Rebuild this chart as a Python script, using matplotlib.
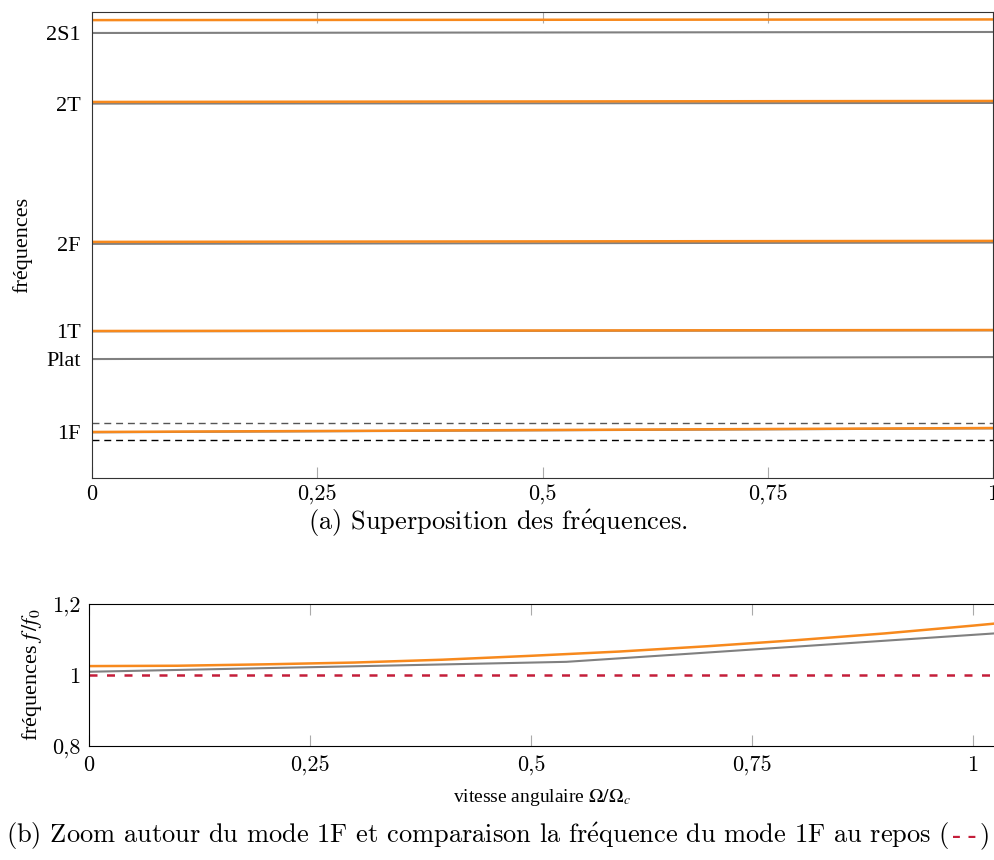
import matplotlib
matplotlib.use('Agg')
from matplotlib import pyplot as plt
from matplotlib.offsetbox import TextArea, HPacker, AnchoredOffsetbox

'''
Fréquences propres en fonction de la vitesse angulaire
'''

# abscisses : vitesse angulaire normalisée
omega = [0, 1]

# (a) fréquences normalisées par f0 (mode 1F au repos)
modes = ['1F', 'Plat', '1T', '2F', '2T', '2S1']
gray_start = [0.99, 3.21, 4.05, 6.70, 10.95, 13.09]
gray_end = [1.11, 3.27, 4.08, 6.74, 10.97, 13.12]
orange_start = [1.00, None, 4.06, 6.76, 11.00, 13.48]
orange_end = [1.12, None, 4.09, 6.79, 11.03, 13.50]
tick_pos = [1.00, 3.21, 4.06, 6.70, 10.95, 13.09]
bande_haut = 1.27
bande_bas = 0.76

# (b) zoom autour de 1F
omega_o = [0, 0.1, 0.2, 0.3, 0.4, 0.5, 0.6, 0.7, 0.8, 0.9, 1.0, 1.03]
f_orange = [1.025, 1.026, 1.030, 1.035, 1.043, 1.054, 1.066, 1.081, 1.098,
             1.117, 1.139, 1.146]
omega_g = [0, 0.33, 0.54, 0.668, 1.0, 1.03]
f_gray = [1.009, 1.026, 1.037, 1.058, 1.113, 1.118]
f_repos = 1.0

x_ticks = [0, 0.25, 0.5, 0.75, 1]
x_labels = ['0', '0,25', '0,5', '0,75', '1']

ORANGE = '#f7891d'
GRAY = '#808080'
RED = '#c41e3a'
SERIF = ['Liberation Serif', 'DejaVu Serif']
CM = ['cmr10', 'DejaVu Serif']
E_AIGU = r'$\mathrm{\acute{e}}$'

plt.rcParams['mathtext.fontset'] = 'stix'
plt.rcParams['axes.unicode_minus'] = False

fig = plt.figure(figsize=(9.95, 8.6), dpi=100)

# ---- (a)
ax = fig.add_axes([0.0925, 0.4442, 0.9055, 0.5419])
for i in range(len(modes)):
    ax.plot(omega, [gray_start[i], gray_end[i]], color=GRAY, lw=1.5)
    if orange_start[i] is not None:
        ax.plot(omega, [orange_start[i], orange_end[i]], color=ORANGE, lw=1.8)
ax.plot(omega, [bande_haut, bande_haut], color='#555555', lw=1.0, ls=(0, (5, 3.5)))
ax.plot(omega, [bande_bas, bande_bas], color='black', lw=1.0, ls=(0, (5, 3.5)))
ax.set_xlim(0, 1)
ax.set_ylim(-0.394, 13.727)
ax.set_xticks(x_ticks)
ax.set_xticklabels(x_labels, fontfamily=CM, fontsize=16)
ax.set_yticks(tick_pos)
ax.set_yticklabels(modes, fontfamily=SERIF, fontsize=16)
ax.tick_params(axis='x', direction='in', length=8, color='#aaaaaa', top=True,
               pad=5)
ax.tick_params(axis='y', length=0, pad=8)
ax.set_ylabel('fréquences', fontfamily=SERIF, fontsize=16, labelpad=10)
for s in ax.spines.values():
    s.set_color('#333333')
fig.text(0.5, 1 - 523 / 860, '(a) Superposition des fr' + E_AIGU + 'quences.',
         ha='center', va='center', fontfamily=CM, fontsize=19,
         math_fontfamily='cm')

# ---- (b)
bx = fig.add_axes([0.0894, 0.1326, 0.9106, 0.1651])
bx.plot(omega_g, f_gray, color=GRAY, lw=1.5)
bx.plot(omega_o, f_orange, color=ORANGE, lw=1.8)
bx.axhline(f_repos, color=RED, lw=1.8, ls=(0, (3.2, 3.8)))
bx.set_xlim(0, 1.025)
bx.set_ylim(0.8, 1.2)
bx.set_xticks(x_ticks)
bx.set_xticklabels(x_labels, fontfamily=CM, fontsize=16)
bx.set_yticks([0.8, 1.0, 1.2])
bx.set_yticklabels(['0,8', '1', '1,2'], fontfamily=CM, fontsize=16)
bx.tick_params(axis='x', direction='in', length=8, color='#aaaaaa', top=True,
               pad=7)
bx.tick_params(axis='y', length=0, pad=6)
bx.set_ylabel(r'fréquences $f\,/f_0$', fontfamily=SERIF, fontsize=16,
              labelpad=6)
bx.set_xlabel(r'vitesse angulaire $\Omega/\Omega_c$', fontfamily=SERIF,
              fontsize=14, labelpad=8)
for s in bx.spines.values():
    s.set_color('black')

cap = dict(fontfamily=CM, fontsize=19, color='black', math_fontfamily='cm')
parts = [TextArea('(b) Zoom autour du mode 1F et comparaison la fr' + E_AIGU
                  + 'quence du mode 1F au repos (', textprops=cap),
         TextArea('- -', textprops=dict(fontfamily=SERIF, fontsize=19,
                                        color=RED, fontweight='bold')),
         TextArea(')', textprops=cap)]
box = HPacker(children=parts, align='baseline', pad=0, sep=2)
anch = AnchoredOffsetbox(loc='center', child=box, frameon=False,
                         bbox_to_anchor=(0.5, 1 - 836 / 860),
                         bbox_transform=fig.transFigure, borderpad=0, pad=0)
fig.add_artist(anch)

plt.savefig('out.png', dpi=100)
